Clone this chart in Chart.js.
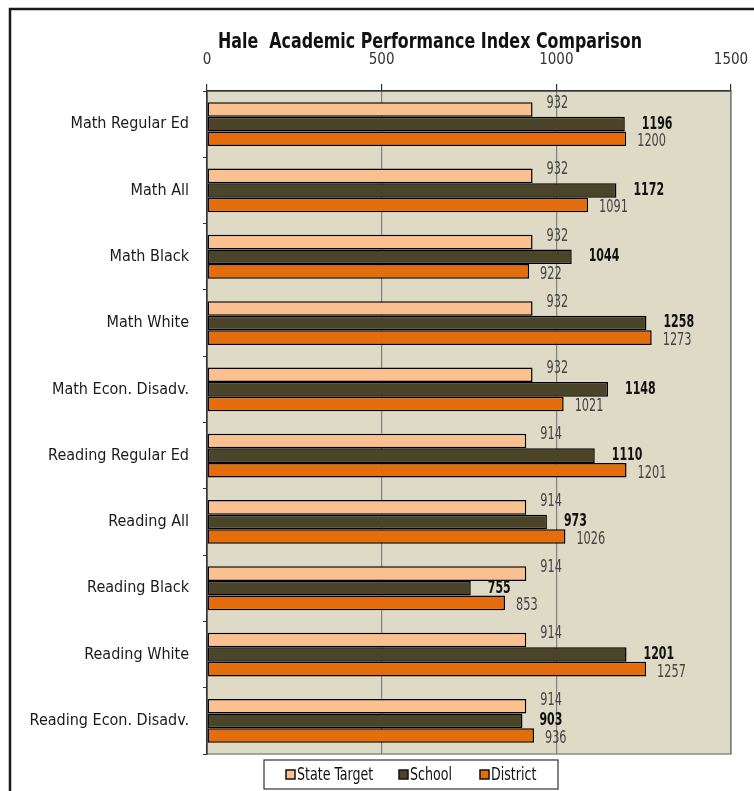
<!DOCTYPE html>
<html>
<head>
<meta charset="utf-8">
<script src="https://cdn.jsdelivr.net/npm/chart.js@4.4.1/dist/chart.umd.min.js"></script>
<style>
  html, body { margin: 0; padding: 0; background: #fff; }
  #wrap { width: 754px; height: 791px; }
</style>
</head>
<body>
<div id="wrap"><canvas id="apiChart" width="754" height="791"></canvas></div>
<script>
const categories = ['Math Regular Ed', 'Math All', 'Math Black', 'Math White', 'Math Econ. Disadv.',
  'Reading Regular Ed', 'Reading All', 'Reading Black', 'Reading White', 'Reading Econ. Disadv.'];
const stateTarget = [932, 932, 932, 932, 932, 914, 914, 914, 914, 914];
const school = [1196, 1172, 1044, 1258, 1148, 1110, 973, 755, 1201, 903];
const district = [1200, 1091, 922, 1273, 1021, 1201, 1026, 853, 1257, 936];
const seriesNames = ['State Target', 'School', 'District'];
const xMin = 0, xMax = 1500, xStep = 500;

const narrow = "'DejaVu Sans Condensed', 'Liberation Sans', sans-serif";
const colors = ['#FBC08F', '#4A4429', '#E46C0A'];

// squeezed text, the original uses a narrow face
function narrowText(ctx, txt, x, y, sx){
    ctx.save();
    ctx.translate(x, y);
    ctx.scale(sx, 1);
    ctx.fillText(txt, 0, 0);
    ctx.restore();
}

// frame, plot background, title
const backPlugin = {
    id: 'back',
    beforeDraw(chart){
        const ctx = chart.ctx;
        const a = chart.chartArea;
        ctx.save();
        ctx.fillStyle = '#fff';
        ctx.fillRect(0, 0, chart.width, chart.height);
        ctx.strokeStyle = '#1a1a1a';
        ctx.lineWidth = 2.5;
        ctx.strokeRect(10, 9, chart.width + 20, chart.height + 20);
        ctx.fillStyle = '#DEDAC5';
        ctx.fillRect(a.left, a.top, a.right - a.left, a.bottom - a.top);
        ctx.strokeStyle = '#8a8a8a';
        ctx.lineWidth = 1.5;
        ctx.strokeRect(a.left, a.top, a.right - a.left, a.bottom - a.top);
        ctx.restore();
    },
    afterDraw(chart){
        const ctx = chart.ctx;
        ctx.save();
        ctx.fillStyle = '#111';
        ctx.font = "bold 21px " + narrow;
        ctx.textAlign = 'center';
        ctx.textBaseline = 'middle';
        narrowText(ctx, 'Hale  Academic Performance Index Comparison', 430, 43, 0.84);
        ctx.restore();
    }
};

// value labels next to bar ends
const labelPlugin = {
    id: 'valueLabels',
    afterDatasetsDraw(chart){
        const ctx = chart.ctx;
        const offs = [[14, -6], [17, 0], [11, 3]];
        ctx.save();
        ctx.textAlign = 'left';
        ctx.textBaseline = 'middle';
        chart.data.datasets.forEach((ds, i) => {
            const meta = chart.getDatasetMeta(i);
            ctx.font = (i == 1 ? 'bold ' : '') + '17px ' + narrow;
            ctx.fillStyle = i == 1 ? '#111' : '#444';
            meta.data.forEach((bar, j) => {
                narrowText(ctx, String(ds.data[j]), bar.x + offs[i][0], bar.y + offs[i][1], i == 1 ? 0.72 : 0.74);
            });
        });
        ctx.restore();
    }
};

// boxed legend under the plot
const legendPlugin = {
    id: 'boxLegend',
    afterDraw(chart){
        const ctx = chart.ctx;
        const box = {x: 264, y: 760, w: 294, h: 29};
        ctx.save();
        ctx.fillStyle = '#fff';
        ctx.fillRect(box.x, box.y, box.w, box.h);
        ctx.strokeStyle = '#333';
        ctx.lineWidth = 1.2;
        ctx.strokeRect(box.x, box.y, box.w, box.h);
        ctx.font = '18px ' + narrow;
        ctx.textBaseline = 'middle';
        ctx.textAlign = 'left';
        var xs = [286, 399, 480];
        chart.data.datasets.forEach((ds, i) => {
            const cy = box.y + box.h / 2;
            ctx.fillStyle = ds.backgroundColor;
            ctx.fillRect(xs[i], cy - 4.5, 9, 9);
            ctx.strokeStyle = '#111';
            ctx.lineWidth = 1.5;
            ctx.strokeRect(xs[i], cy - 4.5, 9, 9);
            ctx.fillStyle = '#111';
            narrowText(ctx, ds.label, xs[i] + 11, cy + 1, 0.78);
        });
        ctx.restore();
    }
};

var can = document.getElementById('apiChart').getContext('2d');
var myChart = new Chart(can, {
    type: 'bar',
    data: {
        labels: categories,
        datasets: [stateTarget, school, district].map((d, i) => ({
            label: seriesNames[i],
            data: d,
            backgroundColor: colors[i],
            borderColor: '#000',
            borderWidth: 1.5,
            borderSkipped: false,
            categoryPercentage: 0.66,
            barPercentage: 1.0
        }))
    },
    options: {
        indexAxis: 'y',
        responsive: false,
        animation: false,
        devicePixelRatio: 1,
        layout: { padding: { left: 0, right: 23, top: 0, bottom: 37 } },
        scales: {
            x: {
                position: 'top',
                min: xMin,
                max: xMax,
                afterFit(scale){
                    scale.height = 91;
                    scale.paddingLeft = 0;
                    scale.paddingRight = 0;
                },
                ticks: {
                    stepSize: xStep,
                    color: '#333',
                    padding: 15,
                    font: { family: narrow, size: 15 },
                    callback: v => String(v)
                },
                grid: {
                    color: '#808080',
                    lineWidth: 1.2,
                    tickLength: 7,
                    tickColor: '#333'
                },
                border: { color: '#333', width: 1.5 }
            },
            y: {
                afterFit(scale){ scale.width = 207; },
                ticks: {
                    color: '#1a1a1a',
                    padding: 14,
                    font: { family: narrow, size: 16 }
                },
                grid: {
                    offset: true,
                    drawOnChartArea: false,
                    tickLength: 4,
                    tickColor: '#333'
                },
                border: { color: '#333', width: 1.5 }
            }
        },
        plugins: {
            legend: { display: false },
            tooltip: { enabled: false }
        }
    },
    plugins: [backPlugin, labelPlugin, legendPlugin]
});
</script>
</body>
</html>
